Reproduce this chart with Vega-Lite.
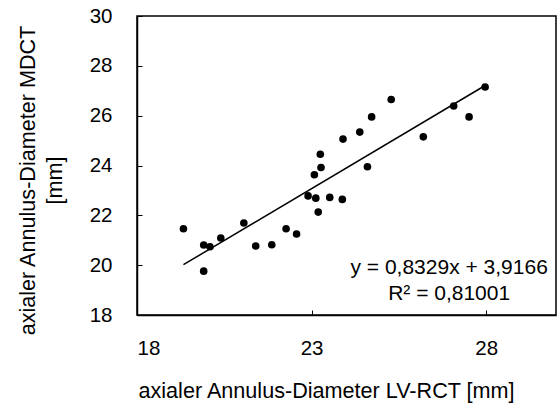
{
  "$schema": "https://vega.github.io/schema/vega-lite/v6.json",
  "width": 419,
  "height": 299,
  "autosize": {"type": "none"},
  "padding": {"left": 137, "top": 16, "right": 1, "bottom": 90},
  "background": "white",
  "config": {
    "font": "Liberation Sans",
    "view": {"stroke": "black", "strokeWidth": 1.5},
    "axis": {
      "grid": false,
      "domainColor": "black",
      "domainWidth": 1.5,
      "tickColor": "black",
      "tickWidth": 1,
      "tickSize": -5,
      "labelFont": "Liberation Sans",
      "labelFontSize": 20.5,
      "labelColor": "black",
      "titleFont": "Liberation Sans",
      "titleFontSize": 21.6,
      "titleFontWeight": "normal",
      "titleColor": "black"
    }
  },
  "datasets": {
    "points": [
      {"lvrct": 19.33, "mdct": 21.46},
      {"lvrct": 19.91, "mdct": 20.81},
      {"lvrct": 20.09, "mdct": 20.74},
      {"lvrct": 19.91, "mdct": 19.76},
      {"lvrct": 20.40, "mdct": 21.09},
      {"lvrct": 21.06, "mdct": 21.69},
      {"lvrct": 21.40, "mdct": 20.77},
      {"lvrct": 21.86, "mdct": 20.82},
      {"lvrct": 22.27, "mdct": 21.46},
      {"lvrct": 22.57, "mdct": 21.25},
      {"lvrct": 22.90, "mdct": 22.78},
      {"lvrct": 23.08, "mdct": 23.63},
      {"lvrct": 23.25, "mdct": 24.45},
      {"lvrct": 23.27, "mdct": 23.92},
      {"lvrct": 23.12, "mdct": 22.69},
      {"lvrct": 23.19, "mdct": 22.13},
      {"lvrct": 23.52, "mdct": 22.72},
      {"lvrct": 23.88, "mdct": 22.64},
      {"lvrct": 23.90, "mdct": 25.06},
      {"lvrct": 24.38, "mdct": 25.34},
      {"lvrct": 24.60, "mdct": 23.95},
      {"lvrct": 24.72, "mdct": 25.95},
      {"lvrct": 25.28, "mdct": 26.65},
      {"lvrct": 26.20, "mdct": 25.15},
      {"lvrct": 27.07, "mdct": 26.39},
      {"lvrct": 27.51, "mdct": 25.95},
      {"lvrct": 27.97, "mdct": 27.15}
    ],
    "trend": [
      {"lvrct": 19.33, "mdct": 20.02},
      {"lvrct": 27.97, "mdct": 27.21}
    ],
    "notes": [
      {"label": "y = 0,8329x + 3,9166", "lvrct": 26.94, "mdct": 19.64},
      {"label": "R² = 0,81001", "lvrct": 26.94, "mdct": 18.6}
    ]
  },
  "layer": [
    {
      "data": {"name": "trend"},
      "mark": {"type": "line", "color": "black", "strokeWidth": 1.5},
      "encoding": {
        "x": {
          "field": "lvrct", "type": "quantitative",
          "scale": {"domain": [18, 30], "nice": false, "zero": false},
          "axis": {
            "values": [18, 23, 28],
            "labelPadding": 28,
            "labelBaseline": "top",
            "title": "axialer Annulus-Diameter LV-RCT [mm]",
            "titleX": 189,
            "titleY": 82,
            "titleBaseline": "alphabetic",
            "titleAnchor": "middle"
          }
        },
        "y": {
          "field": "mdct", "type": "quantitative",
          "scale": {"domain": [18, 30], "nice": false, "zero": false},
          "axis": {
            "values": [18, 20, 22, 24, 26, 28, 30],
            "labelPadding": 30,
            "title": ["axialer Annulus-Diameter MDCT", "[mm]"],
            "titleLineHeight": 27,
            "titleAngle": -90,
            "titleAlign": "center",
            "titleBaseline": "top",
            "titleX": -120,
            "titleY": 164
          }
        }
      }
    },
    {
      "data": {"name": "points"},
      "mark": {"type": "point", "filled": true, "color": "black", "size": 58, "opacity": 1},
      "encoding": {
        "x": {"field": "lvrct", "type": "quantitative"},
        "y": {"field": "mdct", "type": "quantitative"}
      }
    },
    {
      "data": {"name": "notes"},
      "mark": {"type": "text", "color": "black", "fontSize": 21, "align": "center", "baseline": "alphabetic", "font": "Liberation Sans"},
      "encoding": {
        "x": {"field": "lvrct", "type": "quantitative"},
        "y": {"field": "mdct", "type": "quantitative"},
        "text": {"field": "label"}
      }
    }
  ]
}
